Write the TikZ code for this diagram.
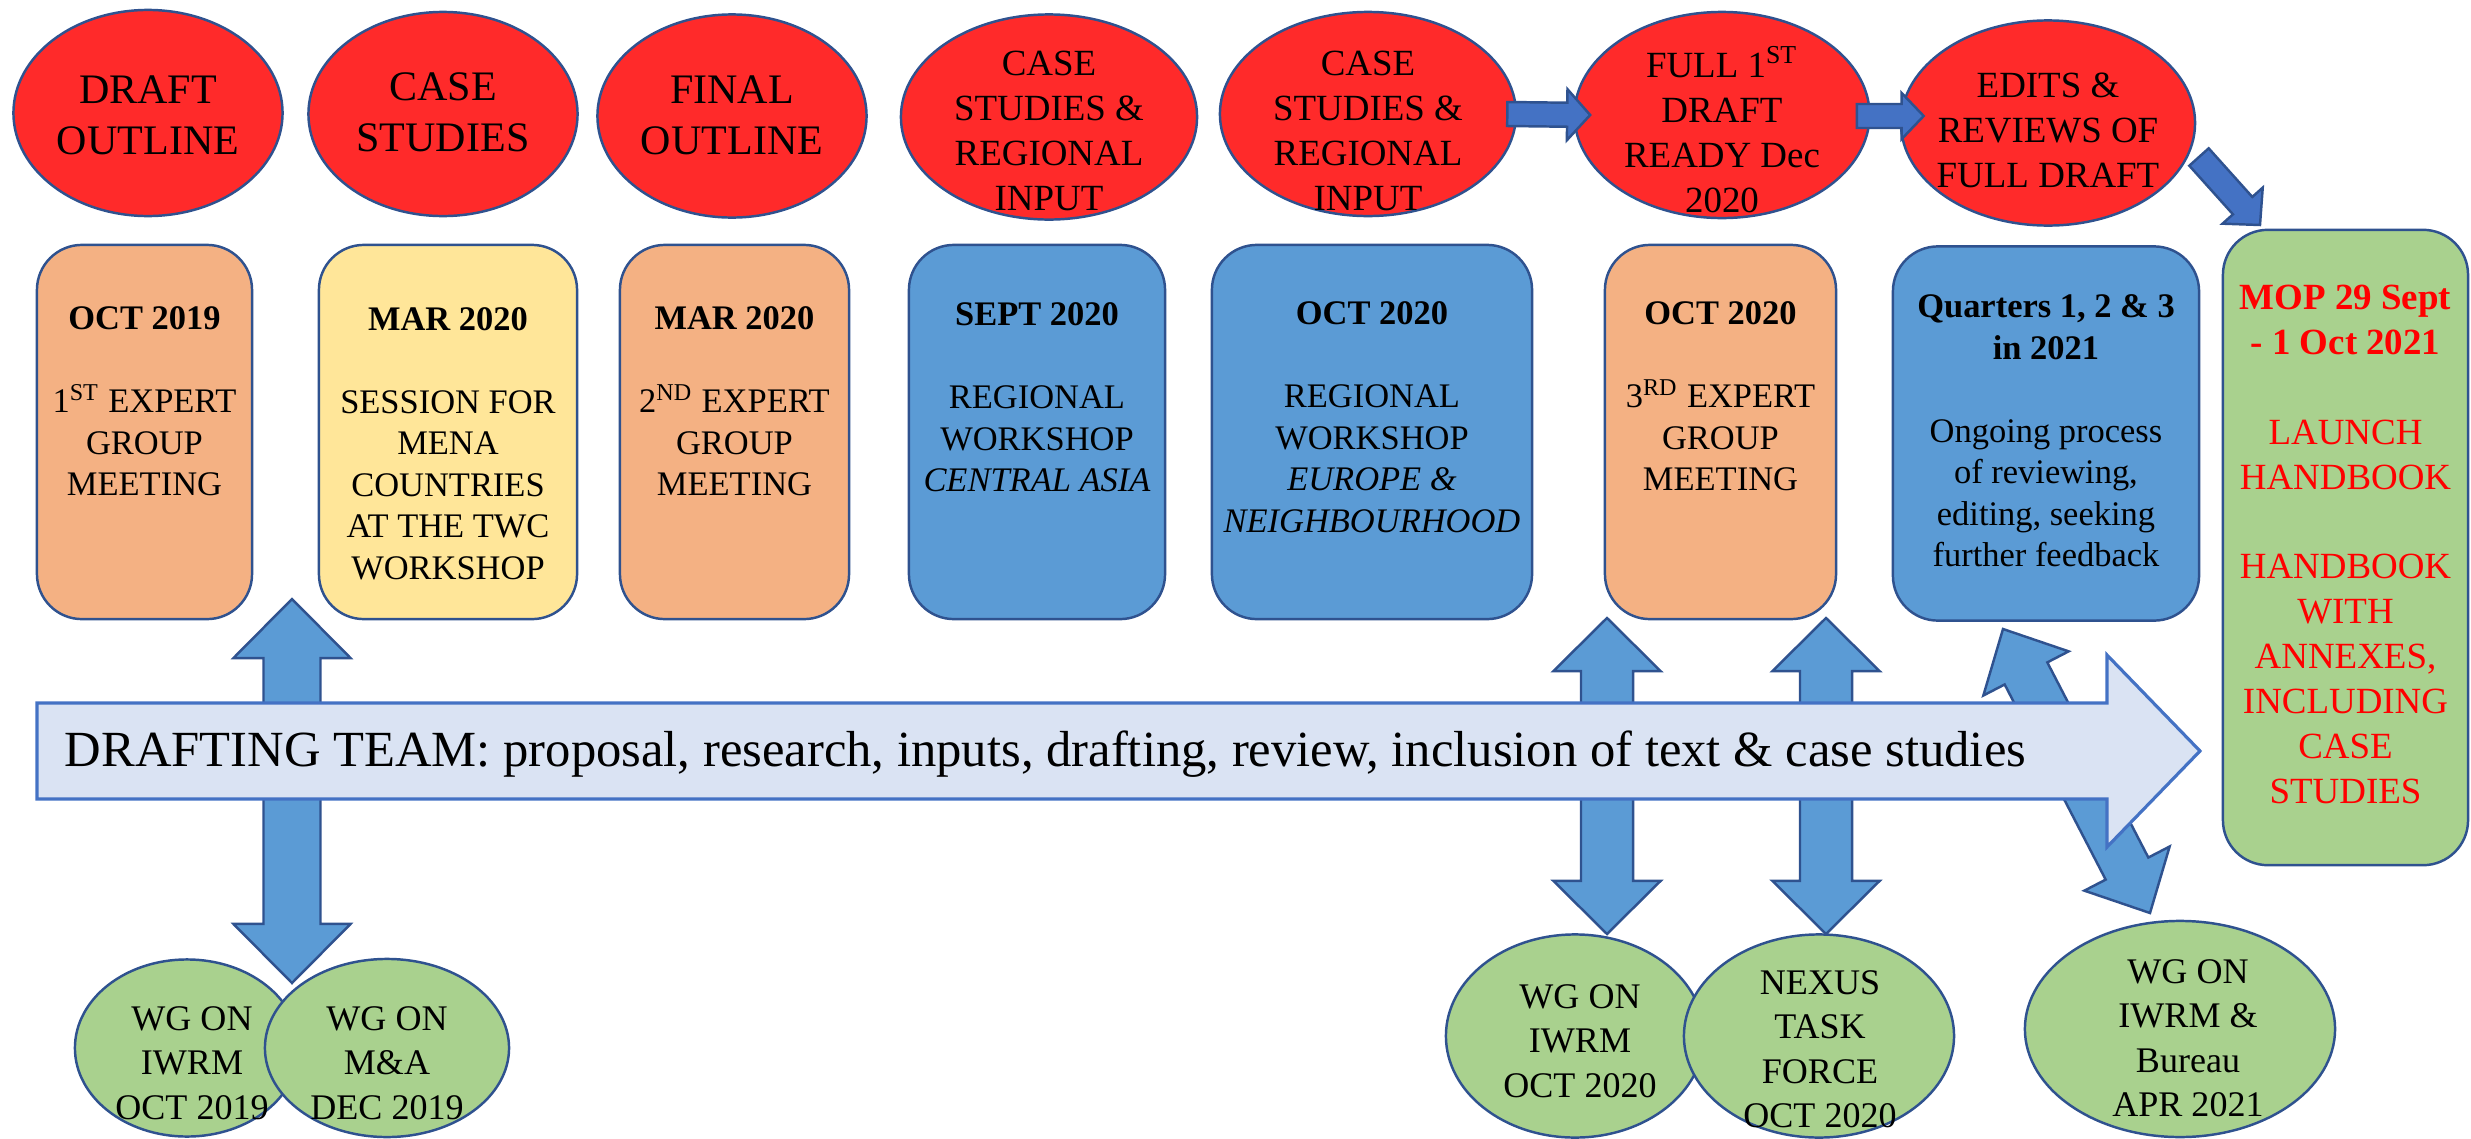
\documentclass[tikz,border=0pt]{standalone}
\usepackage{fontspec}
\setmainfont{Liberation Serif}
\usetikzlibrary{shapes.geometric,calc}

\definecolor{rimblue}{HTML}{2F528F}
\definecolor{ovalred}{HTML}{FF2A2A}
\definecolor{peach}{HTML}{F4B183}
\definecolor{butter}{HTML}{FFE699}
\definecolor{skyblue}{HTML}{5B9BD5}
\definecolor{leaf}{HTML}{A9D18E}
\definecolor{paleblue}{HTML}{DAE3F3}
\definecolor{midblue}{HTML}{4472C4}
\definecolor{mopred}{HTML}{FF0000}

% block arrow: [style]{from}{to}{shaft half width}{head half width}{head length}
\newcommand{\blockarrow}[6][]{%
  \draw[#1] ($(#2)!#4!90:(#3)$)
    -- ($(#3)!#6!(#2)!#4!-90:(#2)$) -- ($(#3)!#6!(#2)!#5!-90:(#2)$)
    -- (#3)
    -- ($(#3)!#6!(#2)!#5!90:(#2)$) -- ($(#3)!#6!(#2)!#4!90:(#2)$)
    -- ($(#2)!#4!-90:(#3)$) -- cycle;}
% block arrow with two heads
\newcommand{\twinarrow}[6][]{%
  \draw[#1] (#2)
    -- ($(#2)!#6!(#3)!#5!90:(#3)$) -- ($(#2)!#6!(#3)!#4!90:(#3)$)
    -- ($(#3)!#6!(#2)!#4!-90:(#2)$) -- ($(#3)!#6!(#2)!#5!-90:(#2)$)
    -- (#3)
    -- ($(#3)!#6!(#2)!#5!90:(#2)$) -- ($(#3)!#6!(#2)!#4!90:(#2)$)
    -- ($(#2)!#6!(#3)!#4!-90:(#3)$) -- ($(#2)!#6!(#3)!#5!-90:(#3)$)
    -- cycle;}

\tikzset{
  rimline/.style={draw=rimblue, line width=0.7pt, inner sep=0pt},
  redoval/.style={rimline, ellipse, fill=ovalred},
  greenoval/.style={rimline, ellipse, fill=leaf},
  datebox/.style={rimline, rectangle, rounded corners=0.45cm, minimum height=3.74cm},
  ctext/.style={align=center, inner sep=0pt},
  ovaltextA/.style={ctext, font=\fontsize{11.95}{14.5}\selectfont},
  ovaltextB/.style={ctext, font=\fontsize{10.5}{12.8}\selectfont},
  boxtext/.style={ctext, font=\fontsize{9.8}{11.8}\selectfont},
  moptext/.style={ctext, text=mopred, font=\fontsize{10.5}{12.75}\selectfont},
  wgtext/.style={ctext, font=\fontsize{10.25}{12.65}\selectfont},
  flowarrow/.style={draw=rimblue, fill=midblue, line width=0.7pt},
  linkarrow/.style={draw=rimblue, fill=skyblue, line width=0.7pt},
  teamarrow/.style={draw=midblue, fill=paleblue, line width=0.9pt},
}

\begin{document}
\begin{tikzpicture}[x=0.01cm,y=-0.01cm]
\useasboundingbox (0,0) rectangle (2471,1139);

% stages
\node[redoval, minimum width=2.69cm, minimum height=2.06cm] (e1) at (148,113) {};
\node[redoval, minimum width=2.69cm, minimum height=2.04cm] (e2) at (443,114) {};
\node[redoval, minimum width=2.69cm, minimum height=2.03cm] (e3) at (732,116) {};
\node[redoval, minimum width=2.96cm, minimum height=2.05cm] (e4) at (1049,117) {};
\node[redoval, minimum width=2.96cm, minimum height=2.04cm] (e5) at (1368,114) {};
\node[redoval, minimum width=2.95cm, minimum height=2.06cm] (e6) at (1722,115) {};
\node[redoval, minimum width=2.94cm, minimum height=2.05cm] (e7) at (2048,123) {};
\node[ovaltextA] (e1t) at (148,115) {DRAFT\\OUTLINE};
\node[ovaltextA] (e2t) at (443,112) {CASE\\STUDIES};
\node[ovaltextA] (e3t) at (732,115) {FINAL\\OUTLINE};
\node[ovaltextB] (e4t) at (1049,131) {CASE\\STUDIES \&\\REGIONAL\\INPUT};
\node[ovaltextB] (e5t) at (1368,131) {CASE\\STUDIES \&\\REGIONAL\\INPUT};
\node[ovaltextB] (e6t) at (1722,130) {FULL 1\textsuperscript{ST}\\DRAFT\\READY Dec\\2020};
\node[ovaltextB] (e7t) at (2048,130) {EDITS \&\\REVIEWS OF\\FULL DRAFT};

% meetings
\node[datebox, fill=peach, minimum width=2.15cm] (b1) at (144.5,432) {};
\node[datebox, fill=butter, minimum width=2.58cm] (b2) at (448,432) {};
\node[datebox, fill=peach, minimum width=2.29cm] (b3) at (734.5,432) {};
\node[datebox, fill=skyblue, minimum width=2.56cm] (b4) at (1037,432) {};
\node[datebox, fill=skyblue, minimum width=3.20cm] (b5) at (1372,432) {};
\node[datebox, fill=peach, minimum width=2.31cm] (b6) at (1720.5,432) {};
\node[datebox, fill=skyblue, minimum width=3.06cm] (b7) at (2046,433.5) {};
\node[datebox, fill=leaf, minimum width=2.45cm, minimum height=6.35cm] (b8) at (2345.5,547.5) {};
\node[boxtext] (b1t) at (144.5,401.5) {{\bfseries OCT 2019}\\[11.8pt]1\textsuperscript{ST} EXPERT\\GROUP\\MEETING};
\node[boxtext] (b2t) at (448,443.5) {{\bfseries MAR 2020}\\[11.8pt]SESSION FOR\\MENA\\COUNTRIES\\AT THE TWC\\WORKSHOP};
\node[boxtext] (b3t) at (734.5,401.5) {{\bfseries MAR 2020}\\[11.8pt]2\textsuperscript{ND} EXPERT\\GROUP\\MEETING};
\node[boxtext] (b4t) at (1037,397.5) {{\bfseries SEPT 2020}\\[11.8pt]REGIONAL\\WORKSHOP\\\textit{CENTRAL ASIA}};
\node[boxtext] (b5t) at (1372,417) {{\bfseries OCT 2020}\\[11.8pt]REGIONAL\\WORKSHOP\\\textit{EUROPE \&}\\\textit{NEIGHBOURHOOD}};
\node[boxtext] (b6t) at (1720.5,396.5) {{\bfseries OCT 2020}\\[11.8pt]3\textsuperscript{RD} EXPERT\\GROUP\\MEETING};
\node[boxtext] (b7t) at (2046,431) {{\bfseries Quarters 1, 2 \& 3}\\{\bfseries in 2021}\\[11.8pt]Ongoing process\\of reviewing,\\editing, seeking\\further feedback};
\node[moptext] (b8t) at (2345.5,544.5) {{\bfseries MOP 29 Sept}\\{\bfseries - 1 Oct 2021}\\[12.75pt]LAUNCH\\HANDBOOK\\[12.75pt]HANDBOOK\\WITH\\ANNEXES,\\INCLUDING\\CASE\\STUDIES};

% flow between stages
\coordinate (flow1a) at ($(e5.east)+(-10,0)$);
\coordinate (flow1b) at ($(e6.west)+(17,0)$);
\coordinate (flow2a) at ($(e6.east)+(-14,1)$);
\coordinate (flow2b) at ($(e7.west)+(24,-7)$);
\coordinate (flow3a) at (2199,157);
\coordinate (flow3b) at (2260,225);
\blockarrow[flowarrow]{flow1a}{flow1b}{0.12cm}{0.255cm}{0.23cm}
\blockarrow[flowarrow]{flow2a}{flow2b}{0.12cm}{0.23cm}{0.22cm}
\blockarrow[flowarrow]{flow3a}{flow3b}{0.13cm}{0.27cm}{0.26cm}

% links to working groups
\coordinate (lnk1a) at (292,599);
\coordinate (lnk1b) at (292,983);
\coordinate (lnk2a) at (1607,618);
\coordinate (lnk2b) at (1607,934);
\coordinate (lnk3a) at (1826,618);
\coordinate (lnk3b) at (1826,934);
\coordinate (lnk4a) at (2003,629);
\coordinate (lnk4b) at (2150,913);
\twinarrow[linkarrow]{lnk1a}{lnk1b}{0.285cm}{0.585cm}{0.59cm}
\twinarrow[linkarrow]{lnk2a}{lnk2b}{0.26cm}{0.535cm}{0.53cm}
\twinarrow[linkarrow]{lnk3a}{lnk3b}{0.26cm}{0.535cm}{0.53cm}
\twinarrow[linkarrow]{lnk4a}{lnk4b}{0.24cm}{0.48cm}{0.50cm}

% drafting team
\coordinate (team0) at (37,751);
\coordinate (team1) at (2200,751);
\blockarrow[teamarrow]{team0}{team1}{0.48cm}{0.96cm}{0.93cm}
\node[font=\fontsize{14.4}{17}\selectfont, anchor=base west, inner sep=0pt] (teamt) at (64,766)
  {DRAFTING TEAM: proposal, research, inputs, drafting, review, inclusion of text \& case studies};

% working groups
\node[greenoval, minimum width=2.24cm, minimum height=1.77cm] (g1) at (187,1048) {};
\node[greenoval, minimum width=2.44cm, minimum height=1.78cm] (g2) at (387,1048) {};
\node[greenoval, minimum width=2.58cm, minimum height=2.03cm] (g3) at (1575,1036) {};
\node[greenoval, minimum width=2.70cm, minimum height=2.03cm] (g4) at (1819,1036) {};
\node[greenoval, minimum width=3.10cm, minimum height=2.16cm] (g5) at (2180,1029) {};
\node[wgtext] (g1t) at (192,1063) {WG ON\\IWRM\\OCT 2019};
\node[wgtext] (g2t) at (387,1063) {WG ON\\M\&A\\DEC 2019};
\node[wgtext] (g3t) at (1580,1041) {WG ON\\IWRM\\OCT 2020};
\node[wgtext] (g4t) at (1820,1049) {NEXUS\\TASK\\FORCE\\OCT 2020};
\node[wgtext] (g5t) at (2188,1038) {WG ON\\IWRM \&\\Bureau\\APR 2021};
\end{tikzpicture}
\end{document}
